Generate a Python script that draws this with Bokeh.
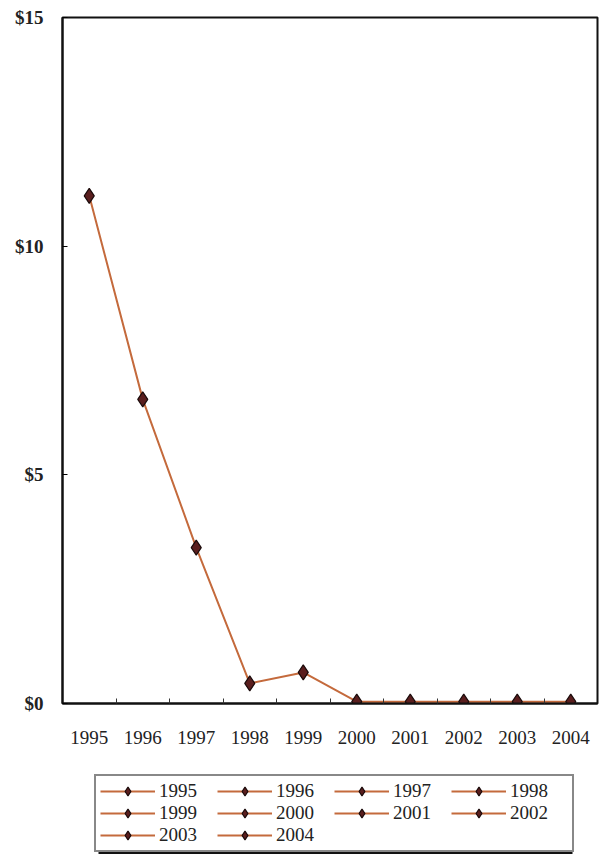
from bokeh.plotting import figure
from bokeh.layouts import column
from bokeh.models import (FactorRange, Range1d, LinearAxis, FixedTicker, NumeralTickFormatter,
                          Legend, LegendItem, BoxAnnotation)
from bokeh.embed import file_html
from bokeh.resources import INLINE

years = ["1995", "1996", "1997", "1998", "1999", "2000", "2001", "2002", "2003", "2004"]
values = [11.1, 6.65, 3.41, 0.44, 0.68, 0.04, 0.04, 0.04, 0.04, 0.04]
y_ticks = [0, 5, 10, 15]

FONT = "Liberation Serif"
LINE_COLOR = "#c46a3c"
MARK_FILL = "#5a1e1e"

xr = FactorRange(factors=years)
p = figure(frame_width=535, frame_height=686, x_range=xr, y_range=Range1d(0, 15),
           x_axis_type=None, y_axis_type=None, output_backend="svg", toolbar_location=None,
           min_border_left=62, min_border_right=2, min_border_top=17, min_border_bottom=67)
p.grid.visible = False
p.outline_line_color = "#111111"
p.outline_line_width = 2
p.background_fill_color = "white"
p.border_fill_color = "white"

# x axis: labels at category centres, tick marks at category boundaries
n = len(years)
centres = [i + 0.5 for i in range(n)]
bounds = [i for i in range(1, n)]
xaxis = LinearAxis(ticker=FixedTicker(ticks=centres, minor_ticks=bounds),
                   major_label_overrides={c: y for c, y in zip(centres, years)})
xaxis.axis_line_color = "#111111"
xaxis.axis_line_width = 2
xaxis.major_tick_in = 0
xaxis.major_tick_out = 0
xaxis.minor_tick_in = 5
xaxis.minor_tick_out = 0
xaxis.minor_tick_line_color = "#333333"
xaxis.major_label_standoff = 27
xaxis.major_label_text_font = FONT
xaxis.major_label_text_font_size = "19px"
xaxis.major_label_text_color = "#222222"
p.add_layout(xaxis, "below")

yaxis = LinearAxis(ticker=FixedTicker(ticks=y_ticks), formatter=NumeralTickFormatter(format="$0"))
yaxis.axis_line_color = "#111111"
yaxis.axis_line_width = 2
yaxis.major_tick_in = 5
yaxis.major_tick_out = 0
yaxis.minor_tick_line_color = None
yaxis.major_label_standoff = 19
yaxis.major_label_text_font = FONT
yaxis.major_label_text_font_size = "19px"
yaxis.major_label_text_font_style = "bold"
yaxis.major_label_text_color = "#222222"
p.add_layout(yaxis, "left")

line_kw = dict(line_color=LINE_COLOR, line_width=2)
mark_kw = dict(marker="diamond", size=15, fill_color=MARK_FILL, line_color="#1a0a0a", line_width=1.2)
p.line(x=years, y=values, **line_kw)
p.scatter(x=years, y=values, **mark_kw)

# legend strip below the chart; its series glyphs lie outside this strip's y-range
lg = figure(frame_width=535, frame_height=84, x_range=xr, y_range=Range1d(-20, -10),
            x_axis_type=None, y_axis_type=None, output_backend="svg", toolbar_location=None,
            min_border_left=62, min_border_right=2, min_border_top=0, min_border_bottom=0)
lg.grid.visible = False
lg.outline_line_color = None
lg.background_fill_color = "white"
lg.border_fill_color = "white"
l2 = lg.line(x=years, y=values, **line_kw)
s2 = lg.scatter(x=years, y=values, **mark_kw)

LX, LY, LW, LH = 32, 2, 474, 74
shadow = BoxAnnotation(left=LX + 4, right=LX + LW + 4, bottom=LY - 4, top=LY + LH - 4,
                       left_units="screen", right_units="screen",
                       bottom_units="screen", top_units="screen",
                       fill_color="#111111", fill_alpha=1.0, line_color=None)
lg.add_layout(shadow)

items = [LegendItem(label=y, renderers=[l2, s2]) for y in years]
legend = Legend(items=items, ncols=4, orientation="horizontal", location=(LX, LY))
legend.label_text_font = FONT
legend.label_text_font_size = "19px"
legend.label_text_color = "#222222"
legend.glyph_width = 55
legend.glyph_height = 22
legend.label_height = 22
legend.label_width = 58
legend.label_standoff = 4
legend.spacing = 0
legend.padding = 4
legend.margin = 0
legend.border_line_color = "#111111"
legend.border_line_width = 2
legend.background_fill_color = "white"
legend.background_fill_alpha = 1.0
lg.add_layout(legend, "center")

layout = column(p, lg, spacing=0)
open("out.html", "w").write(file_html(layout, INLINE))
